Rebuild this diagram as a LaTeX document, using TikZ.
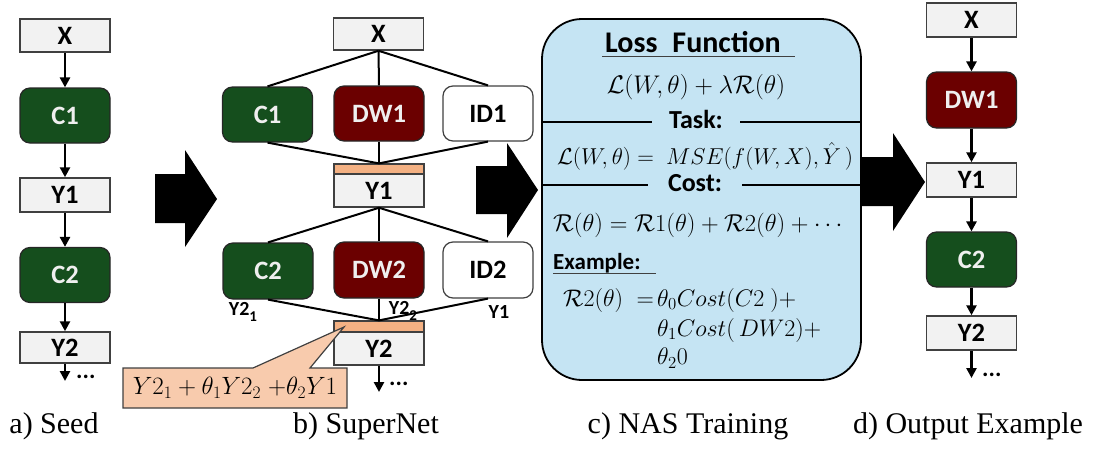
\RequirePackage{fix-cm}
\documentclass[tikz,border=0pt]{standalone}
\usepackage{amsmath}
\usepackage{fontspec}
\setmainfont{Liberation Serif}
\newfontfamily\carl{Carlito}
\usetikzlibrary{arrows.meta}
\definecolor{boxgray}{HTML}{F2F2F2}
\definecolor{edgegray}{HTML}{404040}
\definecolor{cgreen}{HTML}{154E1D}
\definecolor{dwred}{HTML}{6B0000}
\definecolor{barorange}{HTML}{F4B183}
\definecolor{callfill}{HTML}{F8CBAD}
\definecolor{lossblue}{HTML}{C5E4F3}
\definecolor{txtwhite}{HTML}{EFEFEF}
\tikzset{
  lbl/.style={font=\carl\bfseries\fontsize{26.5}{30}\selectfont},
  ybox/.style={lbl, draw=edgegray, fill=boxgray, line width=1.5pt, minimum width=90pt, inner sep=0pt},
  opbox/.style={lbl, rounded corners=10pt, line width=1.2pt, minimum width=90pt, minimum height=55pt, inner sep=0pt},
  cbox/.style={opbox, fill=cgreen, draw=black!85, text=txtwhite},
  dwbox/.style={opbox, fill=dwred, draw=black!85, text=txtwhite},
  idbox/.style={opbox, fill=white, draw=edgegray},
  barbox/.style={draw=edgegray, fill=barorange, line width=1.2pt, minimum width=90pt, inner sep=0pt},
  flow/.style={-{Triangle[length=10pt,width=10pt]}, line width=2.5pt},
  link/.style={line width=2pt},
  dotsnode/.style={font=\carl\bfseries\fontsize{24}{28}\selectfont, anchor=base west, inner sep=0pt},
  sublbl/.style={font=\carl\bfseries\fontsize{20}{24}\selectfont, inner sep=0pt},
  mth/.style={font=\fontsize{23}{27}\selectfont, inner sep=0pt},
  head/.style={font=\carl\bfseries\fontsize{26}{30}\selectfont, inner sep=0pt},
  caption/.style={font=\fontsize{30}{34}\selectfont, anchor=base, inner sep=0pt},
  blockarrow/.style={fill=black}
}
\begin{document}
\begin{tikzpicture}[x=1pt,y=-1pt]
\useasboundingbox (0,0) rectangle (1096,448);

% ---------- a) Seed ----------
\node[ybox, minimum height=33pt] (aX) at (65,35.5) {X};
\node[cbox] (aC1) at (65,115.5) {C1};
\node[ybox, minimum height=34pt] (aY1) at (65,195) {Y1};
\node[cbox] (aC2) at (65,275) {C2};
\node[ybox, minimum height=31pt] (aY2) at (65,347.5) {Y2};
\coordinate (aEnd) at (65,381);
\node[dotsnode] (aDots) at (76,378) {...};
\draw[flow] (aX) -- (aC1);
\draw[flow] (aC1) -- (aY1);
\draw[flow] (aY1) -- (aC2);
\draw[flow] (aC2) -- (aY2);
\draw[flow] (aY2) -- (aEnd);
\node[caption] (capA) at (54,433) {a) Seed};

% ---------- block arrows ----------
\fill[blockarrow] (155,174)--(185,174)--(185,150)--(217,199)--(185,247)--(185,223)--(155,223)--cycle;
\fill[blockarrow] (476,166)--(507,166)--(507,143)--(538,190)--(507,238)--(507,214)--(476,214)--cycle;
\fill[blockarrow] (862,157)--(893,157)--(893,133)--(925,182)--(893,231)--(893,206)--(862,206)--cycle;

% ---------- b) SuperNet ----------
\node[ybox, minimum height=32pt] (bX) at (378.5,34) {X};
\node[cbox] (bC1) at (267.5,114.5) {C1};
\node[dwbox] (bDW1) at (379,113.5) {DW1};
\node[idbox] (bID1) at (488,113.5) {ID1};
\node[barbox, minimum height=10pt] (bO1) at (379,169) {};
\node[ybox, minimum height=33pt] (bY1) at (379,190.5) {Y1};
\node[cbox, minimum height=56pt] (bC2) at (268,271) {C2};
\node[dwbox, minimum height=56pt] (bDW2) at (379,270) {DW2};
\node[idbox, minimum height=56pt] (bID2) at (488,270) {ID2};
\node[barbox, minimum height=11pt] (bO2) at (379,326.5) {};
\node[ybox, minimum height=33pt] (bY2) at (379,348.5) {Y2};
\node[sublbl] (l21) at (243,312) {Y2\raisebox{-0.3em}{\fontsize{15}{16}\selectfont 1}};
\node[sublbl] (l22) at (403,311) {Y2\raisebox{-0.3em}{\fontsize{15}{16}\selectfont 2}};
\node[sublbl] (l1) at (499,312) {Y1};
\draw[link] (bX.south) -- (bC1.north);
\draw[link] (bX.south) -- (bDW1.north);
\draw[link] (bX.south) -- (bID1.north);
\draw[link] (bC1.south) -- (bO1.north);
\draw[link] (bDW1.south) -- (bO1.north);
\draw[link] (bID1.south) -- (bO1.north);
\draw[link] (bY1.south) -- (bC2.north);
\draw[link] (bY1.south) -- (bDW2.north);
\draw[link] (bY1.south) -- (bID2.north);
\draw[link] (bC2.south) -- (bO2.north);
\draw[link] (bDW2.south) -- (bO2.north);
\draw[link] (bID2.south) -- (bO2.north);
\coordinate (bEnd) at (379,392);
\draw[flow] (bY2) -- (bEnd);
\node[dotsnode] (bDots) at (389,385) {...};
% callout
\filldraw[fill=callfill, draw=edgegray, line width=1.2pt]
  (123,368)--(253,368)--(344,327)--(310,368)--(347,368)--(347,408)--(123,408)--cycle;
\node[font=\fontsize{25}{29}\selectfont, inner sep=0pt] (callT) at (235,388)
  {$Y2_1+\theta_1 Y2_2\;{+}\theta_2 Y1$};
\node[caption] (capB) at (366,433) {b) SuperNet};

% ---------- c) NAS Training ----------
\node[draw=black, line width=1.8pt, fill=lossblue, rounded corners=40pt,
      minimum width=319pt, minimum height=361pt, inner sep=0pt] (loss) at (701.5,199.5) {};
\node[head, font=\carl\bfseries\fontsize{30}{34}\selectfont] (lossT) at (693,42) {Loss\hspace{0.5em}Function};
\draw[edgegray, line width=1pt] (602,56) -- (795,56);
\node[mth, font=\fontsize{25.5}{29}\selectfont] (m1) at (696,87) {$\mathcal{L}(W,\theta)+\lambda\mathcal{R}(\theta)$};
\node[head, inner xsep=17pt] (task) at (696,119) {Task:};
\draw[line width=1.6pt] ([yshift=-3pt]task.west) -- ([yshift=-3pt]task.west -| loss.west);
\draw[line width=1.6pt] ([yshift=-3pt]task.east) -- ([yshift=-3pt]task.east -| loss.east);
\node[mth] (m2) at (705,156) {$\mathcal{L}(W,\theta) =\ MSE(f(W,X),\hat{Y}\,)$};
\node[head, inner xsep=20pt] (cost) at (695,183) {Cost:};
\draw[line width=1.6pt] ([yshift=-2pt]cost.west) -- ([yshift=-2pt]cost.west -| loss.west);
\draw[line width=1.6pt] ([yshift=-2pt]cost.east) -- ([yshift=-2pt]cost.east -| loss.east);
\node[mth, font=\fontsize{24.5}{28}\selectfont, anchor=west] (m3) at (553,225) {$\mathcal{R}(\theta)=\mathcal{R}1(\theta)+\mathcal{R}2(\theta)+\cdots$};
\node[font=\carl\bfseries\fontsize{23}{27}\selectfont, inner sep=0pt, anchor=west] (ex) at (553,263) {Example:};
\draw[edgegray, line width=1pt] (553,273) -- (656,273);
\node[mth, font=\fontsize{24}{28}\selectfont, anchor=east] (m4a) at (654,300) {$\mathcal{R}2(\theta)\;=$};
\node[mth, font=\fontsize{24}{28}\selectfont, anchor=west] (m4b) at (657,300) {$\theta_0 Cost(C2\ )+$};
\node[mth, font=\fontsize{24}{28}\selectfont, anchor=west] (m5) at (657,330) {$\theta_1 Cost(\,DW2)+$};
\node[mth, font=\fontsize{24}{28}\selectfont, anchor=west] (m6) at (657,358) {$\theta_2 0$};
\node[caption] (capC) at (688,433) {c) NAS Training};

% ---------- d) Output Example ----------
\node[ybox, minimum height=34pt] (dX) at (971.5,20) {X};
\node[dwbox, minimum height=56pt] (dDW1) at (971.5,100) {DW1};
\node[ybox, minimum height=34pt] (dY1) at (971.5,180) {Y1};
\node[cbox] (dC2) at (971.5,259.5) {C2};
\node[ybox, minimum height=34pt] (dY2) at (971.5,333) {Y2};
\coordinate (dEnd) at (971.5,378);
\node[dotsnode] (dDots) at (982,376) {...};
\draw[flow] (dX) -- (dDW1);
\draw[flow] (dDW1) -- (dY1);
\draw[flow] (dY1) -- (dC2);
\draw[flow] (dC2) -- (dY2);
\draw[flow] (dY2) -- (dEnd);
\node[caption] (capD) at (968,433) {d) Output Example};
\end{tikzpicture}
\end{document}
